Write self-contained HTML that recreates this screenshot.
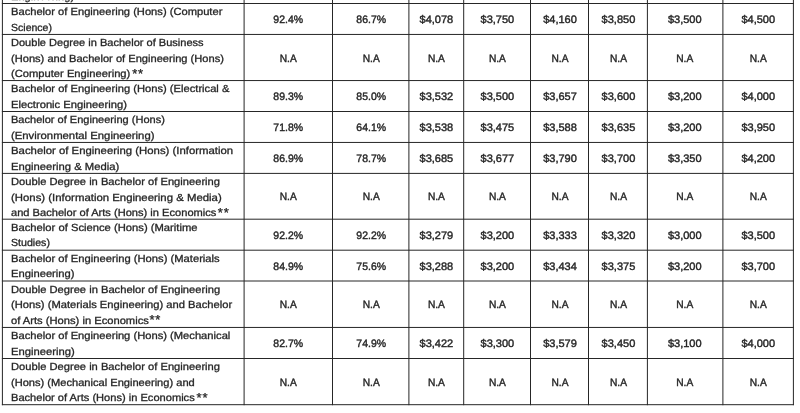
<!DOCTYPE html>
<html><head><meta charset="utf-8"><style>
html,body{margin:0;padding:0;background:#fff;}
body{width:800px;height:413px;overflow:hidden;position:relative;filter:blur(0.3px);font-family:"Liberation Sans",sans-serif;font-size:10.3px;color:#262626;text-rendering:geometricPrecision;-webkit-text-stroke:0.3px #262626;}
.t{position:absolute;white-space:nowrap;line-height:15.45px;height:15.45px;}
.l{transform-origin:0 50%;}
.c{transform-origin:50% 50%;text-align:center;font-size:10.8px;-webkit-text-stroke:0.4px;}
.s{position:absolute;white-space:nowrap;font-size:13px;line-height:20px;height:20px;letter-spacing:0.8px;}
svg{position:absolute;left:0;top:0;}
</style></head><body>

<svg width="800" height="413" viewBox="0 0 800 413" shape-rendering="geometricPrecision">
<line x1="2.4" y1="0" x2="2.4" y2="405.2" stroke="#262626" stroke-width="1"/>
<line x1="244.1" y1="0" x2="244.1" y2="405.2" stroke="#262626" stroke-width="1"/>
<line x1="332.5" y1="0" x2="332.5" y2="405.2" stroke="#262626" stroke-width="1"/>
<line x1="408.9" y1="0" x2="408.9" y2="405.2" stroke="#262626" stroke-width="1"/>
<line x1="463.7" y1="0" x2="463.7" y2="405.2" stroke="#262626" stroke-width="1"/>
<line x1="530.5" y1="0" x2="530.5" y2="405.2" stroke="#262626" stroke-width="1"/>
<line x1="588.5" y1="0" x2="588.5" y2="405.2" stroke="#262626" stroke-width="1"/>
<line x1="647.4" y1="0" x2="647.4" y2="405.2" stroke="#262626" stroke-width="1"/>
<line x1="722.9" y1="0" x2="722.9" y2="405.2" stroke="#262626" stroke-width="1"/>
<line x1="793.4" y1="0" x2="793.4" y2="405.2" stroke="#262626" stroke-width="1"/>
<line x1="1.9" y1="3.5" x2="793.9" y2="3.5" stroke="#262626" stroke-width="1"/>
<line x1="1.9" y1="34.45" x2="793.9" y2="34.45" stroke="#262626" stroke-width="1"/>
<line x1="1.9" y1="80.56" x2="793.9" y2="80.56" stroke="#262626" stroke-width="1"/>
<line x1="1.9" y1="111.5" x2="793.9" y2="111.5" stroke="#262626" stroke-width="1"/>
<line x1="1.9" y1="142.45" x2="793.9" y2="142.45" stroke="#262626" stroke-width="1"/>
<line x1="1.9" y1="173.4" x2="793.9" y2="173.4" stroke="#262626" stroke-width="1"/>
<line x1="1.9" y1="219.2" x2="793.9" y2="219.2" stroke="#262626" stroke-width="1"/>
<line x1="1.9" y1="250.2" x2="793.9" y2="250.2" stroke="#262626" stroke-width="1"/>
<line x1="1.9" y1="281.0" x2="793.9" y2="281.0" stroke="#262626" stroke-width="1"/>
<line x1="1.9" y1="327.45" x2="793.9" y2="327.45" stroke="#262626" stroke-width="1"/>
<line x1="1.9" y1="358.5" x2="793.9" y2="358.5" stroke="#262626" stroke-width="1"/>
<line x1="1.9" y1="404.7" x2="793.9" y2="404.7" stroke="#262626" stroke-width="1"/>
</svg>
<div class="t l" style="left:11.1px;top:-9.79px;transform:scaleX(1.0813)">Engineering)</div>
<div class="t l" style="left:11.1px;top:5.21px;transform:scaleX(1.0831)">Bachelor of Engineering (Hons) (Computer</div>
<div class="t l" style="left:11.1px;top:20.66px;transform:scaleX(1.0225)">Science)</div>
<div class="t l" style="left:11.1px;top:36.16px;transform:scaleX(1.0717)">Double Degree in Bachelor of Business</div>
<div class="t l" style="left:11.1px;top:51.61px;transform:scaleX(1.0782)">(Hons) and Bachelor of Engineering (Hons)</div>
<div class="t l" style="left:11.1px;top:67.06px;transform:scaleX(1.0855)">(Computer Engineering)</div>
<div class="s" style="left:132.20px;top:63.55px">**</div>
<div class="t l" style="left:11.1px;top:82.27px;transform:scaleX(1.0841)">Bachelor of Engineering (Hons) (Electrical &amp;</div>
<div class="t l" style="left:11.1px;top:97.72px;transform:scaleX(1.0887)">Electronic Engineering)</div>
<div class="t l" style="left:11.1px;top:113.21px;transform:scaleX(1.0708)">Bachelor of Engineering (Hons)</div>
<div class="t l" style="left:11.1px;top:128.66px;transform:scaleX(1.0992)">(Environmental Engineering)</div>
<div class="t l" style="left:11.1px;top:144.16px;transform:scaleX(1.1025)">Bachelor of Engineering (Hons) (Information</div>
<div class="t l" style="left:11.1px;top:159.61px;transform:scaleX(1.0929)">Engineering &amp; Media)</div>
<div class="t l" style="left:11.1px;top:175.11px;transform:scaleX(1.0834)">Double Degree in Bachelor of Engineering</div>
<div class="t l" style="left:11.1px;top:190.56px;transform:scaleX(1.1058)">(Hons) (Information Engineering &amp; Media)</div>
<div class="t l" style="left:11.1px;top:206.01px;transform:scaleX(1.0775)">and Bachelor of Arts (Hons) in Economics</div>
<div class="s" style="left:217.80px;top:202.50px">**</div>
<div class="t l" style="left:11.1px;top:220.91px;transform:scaleX(1.0901)">Bachelor of Science (Hons) (Maritime</div>
<div class="t l" style="left:11.1px;top:236.36px;transform:scaleX(1.0316)">Studies)</div>
<div class="t l" style="left:11.1px;top:251.91px;transform:scaleX(1.0885)">Bachelor of Engineering (Hons) (Materials</div>
<div class="t l" style="left:11.1px;top:267.36px;transform:scaleX(1.0879)">Engineering)</div>
<div class="t l" style="left:11.1px;top:282.71px;transform:scaleX(1.0839)">Double Degree in Bachelor of Engineering</div>
<div class="t l" style="left:11.1px;top:298.16px;transform:scaleX(1.0858)">(Hons) (Materials Engineering) and Bachelor</div>
<div class="t l" style="left:11.1px;top:313.61px;transform:scaleX(1.0850)">of Arts (Hons) in Economics</div>
<div class="s" style="left:149.40px;top:310.10px">**</div>
<div class="t l" style="left:11.1px;top:329.16px;transform:scaleX(1.0856)">Bachelor of Engineering (Hons) (Mechanical</div>
<div class="t l" style="left:11.1px;top:344.61px;transform:scaleX(1.0914)">Engineering)</div>
<div class="t l" style="left:11.1px;top:360.21px;transform:scaleX(1.0834)">Double Degree in Bachelor of Engineering</div>
<div class="t l" style="left:11.1px;top:375.66px;transform:scaleX(1.0772)">(Hons) (Mechanical Engineering) and</div>
<div class="t l" style="left:11.1px;top:391.11px;transform:scaleX(1.0772)">Bachelor of Arts (Hons) in Economics</div>
<div class="s" style="left:196.60px;top:387.60px">**</div>
<div class="t c" style="left:244.10px;width:88.40px;top:13.01px;transform:scaleX(0.9710)">92.4%</div>
<div class="t c" style="left:332.50px;width:76.40px;top:13.01px;transform:scaleX(0.9710)">86.7%</div>
<div class="t c" style="left:408.90px;width:54.80px;top:13.01px;transform:scaleX(1.0212)">$4,078</div>
<div class="t c" style="left:463.70px;width:66.80px;top:13.01px;transform:scaleX(1.0212)">$3,750</div>
<div class="t c" style="left:530.50px;width:58.00px;top:13.01px;transform:scaleX(1.0212)">$4,160</div>
<div class="t c" style="left:588.50px;width:58.90px;top:13.01px;transform:scaleX(1.0212)">$3,850</div>
<div class="t c" style="left:647.40px;width:75.50px;top:13.01px;transform:scaleX(1.0212)">$3,500</div>
<div class="t c" style="left:722.90px;width:70.50px;top:13.01px;transform:scaleX(1.0212)">$4,500</div>
<div class="t c" style="left:244.10px;width:88.40px;top:51.54px;transform:scaleX(0.9444)">N.A</div>
<div class="t c" style="left:332.50px;width:76.40px;top:51.54px;transform:scaleX(0.9444)">N.A</div>
<div class="t c" style="left:408.90px;width:54.80px;top:51.54px;transform:scaleX(0.9444)">N.A</div>
<div class="t c" style="left:463.70px;width:66.80px;top:51.54px;transform:scaleX(0.9444)">N.A</div>
<div class="t c" style="left:530.50px;width:58.00px;top:51.54px;transform:scaleX(0.9444)">N.A</div>
<div class="t c" style="left:588.50px;width:58.90px;top:51.54px;transform:scaleX(0.9444)">N.A</div>
<div class="t c" style="left:647.40px;width:75.50px;top:51.54px;transform:scaleX(0.9444)">N.A</div>
<div class="t c" style="left:722.90px;width:70.50px;top:51.54px;transform:scaleX(0.9444)">N.A</div>
<div class="t c" style="left:244.10px;width:88.40px;top:90.06px;transform:scaleX(0.9710)">89.3%</div>
<div class="t c" style="left:332.50px;width:76.40px;top:90.06px;transform:scaleX(0.9710)">85.0%</div>
<div class="t c" style="left:408.90px;width:54.80px;top:90.06px;transform:scaleX(1.0212)">$3,532</div>
<div class="t c" style="left:463.70px;width:66.80px;top:90.06px;transform:scaleX(1.0212)">$3,500</div>
<div class="t c" style="left:530.50px;width:58.00px;top:90.06px;transform:scaleX(1.0212)">$3,657</div>
<div class="t c" style="left:588.50px;width:58.90px;top:90.06px;transform:scaleX(1.0212)">$3,600</div>
<div class="t c" style="left:647.40px;width:75.50px;top:90.06px;transform:scaleX(1.0212)">$3,200</div>
<div class="t c" style="left:722.90px;width:70.50px;top:90.06px;transform:scaleX(1.0212)">$4,000</div>
<div class="t c" style="left:244.10px;width:88.40px;top:121.01px;transform:scaleX(0.9710)">71.8%</div>
<div class="t c" style="left:332.50px;width:76.40px;top:121.01px;transform:scaleX(0.9710)">64.1%</div>
<div class="t c" style="left:408.90px;width:54.80px;top:121.01px;transform:scaleX(1.0212)">$3,538</div>
<div class="t c" style="left:463.70px;width:66.80px;top:121.01px;transform:scaleX(1.0212)">$3,475</div>
<div class="t c" style="left:530.50px;width:58.00px;top:121.01px;transform:scaleX(1.0212)">$3,588</div>
<div class="t c" style="left:588.50px;width:58.90px;top:121.01px;transform:scaleX(1.0212)">$3,635</div>
<div class="t c" style="left:647.40px;width:75.50px;top:121.01px;transform:scaleX(1.0212)">$3,200</div>
<div class="t c" style="left:722.90px;width:70.50px;top:121.01px;transform:scaleX(1.0212)">$3,950</div>
<div class="t c" style="left:244.10px;width:88.40px;top:151.96px;transform:scaleX(0.9710)">86.9%</div>
<div class="t c" style="left:332.50px;width:76.40px;top:151.96px;transform:scaleX(0.9710)">78.7%</div>
<div class="t c" style="left:408.90px;width:54.80px;top:151.96px;transform:scaleX(1.0212)">$3,685</div>
<div class="t c" style="left:463.70px;width:66.80px;top:151.96px;transform:scaleX(1.0212)">$3,677</div>
<div class="t c" style="left:530.50px;width:58.00px;top:151.96px;transform:scaleX(1.0212)">$3,790</div>
<div class="t c" style="left:588.50px;width:58.90px;top:151.96px;transform:scaleX(1.0212)">$3,700</div>
<div class="t c" style="left:647.40px;width:75.50px;top:151.96px;transform:scaleX(1.0212)">$3,350</div>
<div class="t c" style="left:722.90px;width:70.50px;top:151.96px;transform:scaleX(1.0212)">$4,200</div>
<div class="t c" style="left:244.10px;width:88.40px;top:190.33px;transform:scaleX(0.9444)">N.A</div>
<div class="t c" style="left:332.50px;width:76.40px;top:190.33px;transform:scaleX(0.9444)">N.A</div>
<div class="t c" style="left:408.90px;width:54.80px;top:190.33px;transform:scaleX(0.9444)">N.A</div>
<div class="t c" style="left:463.70px;width:66.80px;top:190.33px;transform:scaleX(0.9444)">N.A</div>
<div class="t c" style="left:530.50px;width:58.00px;top:190.33px;transform:scaleX(0.9444)">N.A</div>
<div class="t c" style="left:588.50px;width:58.90px;top:190.33px;transform:scaleX(0.9444)">N.A</div>
<div class="t c" style="left:647.40px;width:75.50px;top:190.33px;transform:scaleX(0.9444)">N.A</div>
<div class="t c" style="left:722.90px;width:70.50px;top:190.33px;transform:scaleX(0.9444)">N.A</div>
<div class="t c" style="left:244.10px;width:88.40px;top:228.73px;transform:scaleX(0.9710)">92.2%</div>
<div class="t c" style="left:332.50px;width:76.40px;top:228.73px;transform:scaleX(0.9710)">92.2%</div>
<div class="t c" style="left:408.90px;width:54.80px;top:228.73px;transform:scaleX(1.0212)">$3,279</div>
<div class="t c" style="left:463.70px;width:66.80px;top:228.73px;transform:scaleX(1.0212)">$3,200</div>
<div class="t c" style="left:530.50px;width:58.00px;top:228.73px;transform:scaleX(1.0212)">$3,333</div>
<div class="t c" style="left:588.50px;width:58.90px;top:228.73px;transform:scaleX(1.0212)">$3,320</div>
<div class="t c" style="left:647.40px;width:75.50px;top:228.73px;transform:scaleX(1.0212)">$3,000</div>
<div class="t c" style="left:722.90px;width:70.50px;top:228.73px;transform:scaleX(1.0212)">$3,500</div>
<div class="t c" style="left:244.10px;width:88.40px;top:259.63px;transform:scaleX(0.9710)">84.9%</div>
<div class="t c" style="left:332.50px;width:76.40px;top:259.63px;transform:scaleX(0.9710)">75.6%</div>
<div class="t c" style="left:408.90px;width:54.80px;top:259.63px;transform:scaleX(1.0212)">$3,288</div>
<div class="t c" style="left:463.70px;width:66.80px;top:259.63px;transform:scaleX(1.0212)">$3,200</div>
<div class="t c" style="left:530.50px;width:58.00px;top:259.63px;transform:scaleX(1.0212)">$3,434</div>
<div class="t c" style="left:588.50px;width:58.90px;top:259.63px;transform:scaleX(1.0212)">$3,375</div>
<div class="t c" style="left:647.40px;width:75.50px;top:259.63px;transform:scaleX(1.0212)">$3,200</div>
<div class="t c" style="left:722.90px;width:70.50px;top:259.63px;transform:scaleX(1.0212)">$3,700</div>
<div class="t c" style="left:244.10px;width:88.40px;top:298.26px;transform:scaleX(0.9444)">N.A</div>
<div class="t c" style="left:332.50px;width:76.40px;top:298.26px;transform:scaleX(0.9444)">N.A</div>
<div class="t c" style="left:408.90px;width:54.80px;top:298.26px;transform:scaleX(0.9444)">N.A</div>
<div class="t c" style="left:463.70px;width:66.80px;top:298.26px;transform:scaleX(0.9444)">N.A</div>
<div class="t c" style="left:530.50px;width:58.00px;top:298.26px;transform:scaleX(0.9444)">N.A</div>
<div class="t c" style="left:588.50px;width:58.90px;top:298.26px;transform:scaleX(0.9444)">N.A</div>
<div class="t c" style="left:647.40px;width:75.50px;top:298.26px;transform:scaleX(0.9444)">N.A</div>
<div class="t c" style="left:722.90px;width:70.50px;top:298.26px;transform:scaleX(0.9444)">N.A</div>
<div class="t c" style="left:244.10px;width:88.40px;top:337.01px;transform:scaleX(0.9710)">82.7%</div>
<div class="t c" style="left:332.50px;width:76.40px;top:337.01px;transform:scaleX(0.9710)">74.9%</div>
<div class="t c" style="left:408.90px;width:54.80px;top:337.01px;transform:scaleX(1.0212)">$3,422</div>
<div class="t c" style="left:463.70px;width:66.80px;top:337.01px;transform:scaleX(1.0212)">$3,300</div>
<div class="t c" style="left:530.50px;width:58.00px;top:337.01px;transform:scaleX(1.0212)">$3,579</div>
<div class="t c" style="left:588.50px;width:58.90px;top:337.01px;transform:scaleX(1.0212)">$3,450</div>
<div class="t c" style="left:647.40px;width:75.50px;top:337.01px;transform:scaleX(1.0212)">$3,100</div>
<div class="t c" style="left:722.90px;width:70.50px;top:337.01px;transform:scaleX(1.0212)">$4,000</div>
<div class="t c" style="left:244.10px;width:88.40px;top:375.63px;transform:scaleX(0.9444)">N.A</div>
<div class="t c" style="left:332.50px;width:76.40px;top:375.63px;transform:scaleX(0.9444)">N.A</div>
<div class="t c" style="left:408.90px;width:54.80px;top:375.63px;transform:scaleX(0.9444)">N.A</div>
<div class="t c" style="left:463.70px;width:66.80px;top:375.63px;transform:scaleX(0.9444)">N.A</div>
<div class="t c" style="left:530.50px;width:58.00px;top:375.63px;transform:scaleX(0.9444)">N.A</div>
<div class="t c" style="left:588.50px;width:58.90px;top:375.63px;transform:scaleX(0.9444)">N.A</div>
<div class="t c" style="left:647.40px;width:75.50px;top:375.63px;transform:scaleX(0.9444)">N.A</div>
<div class="t c" style="left:722.90px;width:70.50px;top:375.63px;transform:scaleX(0.9444)">N.A</div>
</body></html>
